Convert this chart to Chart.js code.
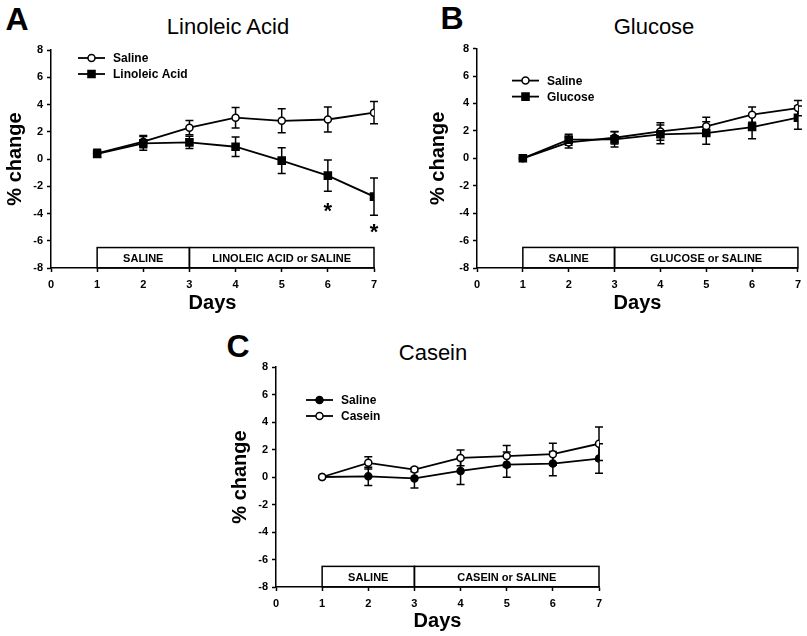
<!DOCTYPE html>
<html>
<head>
<meta charset="utf-8">
<script src="https://cdn.jsdelivr.net/npm/chart.js@4"></script>
<style>
  body { margin: 0; background: #fff; width: 807px; height: 636px; position: relative; overflow: hidden;
         font-family: Arial, "Liberation Sans", sans-serif; }
  canvas { position: absolute; }
  .lbl { position: absolute; font-weight: bold; font-size: 32px; line-height: 1; transform: translate(-50%, -50%); }
  .ttl { position: absolute; font-size: 22px; line-height: 1; transform: translate(-50%, -50%); white-space: nowrap; }
</style>
</head>
<body>
<div class="lbl" style="left:17px;top:19px">A</div>
<div class="ttl" style="left:228px;top:27px">Linoleic Acid</div>
<div class="lbl" style="left:452px;top:18px">B</div>
<div class="ttl" style="left:654px;top:27px">Glucose</div>
<div class="lbl" style="left:238px;top:346px">C</div>
<div class="ttl" style="left:433px;top:353px">Casein</div>

<canvas id="chartA" width="400" height="280" style="left:0px;top:38px"></canvas>
<canvas id="chartB" width="381" height="280" style="left:426px;top:38px"></canvas>
<canvas id="chartC" width="400" height="281" style="left:225px;top:355px"></canvas>

<script>
// days on the x axis
var days = [1, 2, 3, 4, 5, 6, 7];
var xTicks = [0, 1, 2, 3, 4, 5, 6, 7];
var yTicks = [-8, -6, -4, -2, 0, 2, 4, 6, 8];

// panel A - linoleic acid
var linSaline = [0.42, 1.27, 2.3, 3.03, 2.8, 2.9, 3.4];
var linSalineErr = [0.3, 0.45, 0.52, 0.75, 0.88, 0.92, 0.82];
var linAcid = [0.37, 1.15, 1.22, 0.9, -0.12, -1.22, -2.76];
var linAcidErr = [0.25, 0.5, 0.45, 0.72, 0.95, 1.14, 1.36];
var linStarDays = [6, 7];
var linStarY = [-3.6, -5.1];

// panel B - glucose
var gluSaline = [0, 1.16, 1.5, 1.96, 2.33, 3.18, 3.66];
var gluSalineErr = [0, 0.4, 0.45, 0.64, 0.67, 0.56, 0.56];
var gluGlucose = [0, 1.36, 1.38, 1.75, 1.84, 2.28, 2.96];
var gluGlucoseErr = [0, 0.4, 0.55, 0.68, 0.82, 0.85, 0.85];

// panel C - casein
var casSaline = [0, 0.05, -0.1, 0.44, 0.9, 0.98, 1.34];
var casSalineErr = [0, 0.66, 0.7, 0.98, 0.92, 0.88, 1.07];
var casCasein = [0, 1.03, 0.54, 1.39, 1.52, 1.66, 2.42];
var casCaseinErr = [0, 0.45, 0.15, 0.57, 0.78, 0.8, 1.22];

// treatment boxes along the bottom
var boxEdges = [1, 3, 7];
var boxTop = -6.5;
var boxBottom = -8;
var linBoxLabels = ['SALINE', 'LINOLEIC ACID or SALINE'];
var gluBoxLabels = ['SALINE', 'GLUCOSE or SALINE'];
var casBoxLabels = ['SALINE', 'CASEIN or SALINE'];

var FONT = 'Arial, "Liberation Sans", sans-serif';

function toPoints(vals) {
    var pts = [];
    for (var i = 0; i < days.length; i++) pts.push({ x: days[i], y: vals[i] });
    return pts;
}

// second series is drawn on top, like the original
function series(label, vals, err, style, filled, radius, order) {
    return {
        label: label,
        data: toPoints(vals),
        err: err,
        order: order,
        borderColor: '#000',
        borderWidth: 1.8,
        backgroundColor: filled ? '#000' : '#fff',
        pointStyle: style,
        pointRadius: radius,
        pointBorderWidth: 1.5,
        pointBorderColor: '#000',
        pointBackgroundColor: filled ? '#000' : '#fff',
        tension: 0
    };
}

function drawMarker(ctx, ds, x, y) {
    ctx.save();
    ctx.lineWidth = 1.5;
    ctx.strokeStyle = '#000';
    ctx.fillStyle = ds.pointBackgroundColor;
    ctx.beginPath();
    if (ds.pointStyle === 'rect') {
        var s = ds.pointRadius * Math.SQRT1_2;
        ctx.rect(x - s, y - s, 2 * s, 2 * s);
    } else {
        ctx.arc(x, y, ds.pointRadius, 0, Math.PI * 2);
    }
    ctx.fill();
    ctx.stroke();
    ctx.restore();
}

var extrasPlugin = {
    id: 'extras',
    beforeDatasetsDraw: function(chart) {
        var ctx = chart.ctx;
        var xs = chart.scales.x, ys = chart.scales.y;
        var o = chart.options.plugins.extras;
        ctx.save();
        ctx.strokeStyle = '#000';
        ctx.lineWidth = 1.5;
        // error bars
        chart.data.datasets.forEach(function(ds) {
            ds.data.forEach(function(p, j) {
                var e = ds.err[j];
                if (!e) return;
                var x = xs.getPixelForValue(p.x);
                var yt = ys.getPixelForValue(p.y + e);
                var yb = ys.getPixelForValue(p.y - e);
                ctx.beginPath();
                ctx.moveTo(x, yt); ctx.lineTo(x, yb);
                ctx.moveTo(x - 4, yt); ctx.lineTo(x + 4, yt);
                ctx.moveTo(x - 4, yb); ctx.lineTo(x + 4, yb);
                ctx.stroke();
            });
        });
        // treatment boxes
        var yT = ys.getPixelForValue(boxTop), yB = ys.getPixelForValue(boxBottom);
        ctx.fillStyle = '#000';
        ctx.font = 'bold 11px ' + FONT;
        ctx.textAlign = 'center';
        ctx.textBaseline = 'middle';
        for (var i = 0; i < boxEdges.length - 1; i++) {
            var x0 = xs.getPixelForValue(boxEdges[i]);
            var x1 = xs.getPixelForValue(boxEdges[i + 1]);
            ctx.strokeRect(x0, yT, x1 - x0, yB - yT);
            ctx.fillText(o.boxLabels[i], (x0 + x1) / 2, (yT + yB) / 2 + 1);
        }
        ctx.restore();
    },
    afterDraw: function(chart) {
        var ctx = chart.ctx;
        var a = chart.chartArea;
        var o = chart.options.plugins.extras;
        var xs = chart.scales.x, ys = chart.scales.y;
        ctx.save();
        // legend
        chart.data.datasets.forEach(function(ds, i) {
            var x0 = a.left + o.legendX;
            var y = a.top + o.legendY + i * 16;
            ctx.strokeStyle = '#000';
            ctx.lineWidth = 1.8;
            ctx.beginPath();
            ctx.moveTo(x0, y); ctx.lineTo(x0 + 27, y);
            ctx.stroke();
            drawMarker(ctx, ds, x0 + 13.5, y);
            ctx.fillStyle = '#000';
            ctx.font = 'bold 12px ' + FONT;
            ctx.textAlign = 'left';
            ctx.textBaseline = 'middle';
            ctx.fillText(ds.label, x0 + 35, y + 1);
        });
        // significance stars
        if (o.starDays) {
            ctx.font = 'bold 22px ' + FONT;
            ctx.textAlign = 'center';
            ctx.textBaseline = 'middle';
            for (var k = 0; k < o.starDays.length; k++) {
                ctx.fillText('*', xs.getPixelForValue(o.starDays[k]), ys.getPixelForValue(o.starY[k]) + 4);
            }
        }
        ctx.restore();
    }
};

function makeChart(id, datasets, extras, pad) {
    new Chart(document.getElementById(id), {
        type: 'line',
        data: { datasets: datasets },
        plugins: [extrasPlugin],
        options: {
            responsive: false,
            animation: false,
            layout: { padding: { top: pad.top, right: pad.right, left: 0, bottom: 0 } },
            plugins: {
                legend: { display: false },
                title: { display: false },
                tooltip: { enabled: false },
                extras: extras
            },
            scales: {
                x: {
                    type: 'linear',
                    min: 0, max: 7,
                    afterFit: function(s) { s.height = pad.xHeight; },
                    afterBuildTicks: function(s) { s.ticks = xTicks.map(function(v) { return { value: v }; }); },
                    grid: { drawOnChartArea: false, drawTicks: true, tickLength: 4, color: '#000', tickWidth: 1.5 },
                    border: { color: '#000', width: 1.5 },
                    ticks: { color: '#000', padding: 6, font: { family: FONT, size: 11, weight: 'bold' } },
                    title: { display: true, text: 'Days', color: '#000', padding: { top: 0, bottom: 3 },
                             font: { family: FONT, size: 20, weight: 'bold' } }
                },
                y: {
                    min: -8, max: 8,
                    afterFit: function(s) { s.width = pad.yWidth; },
                    afterBuildTicks: function(s) { s.ticks = yTicks.map(function(v) { return { value: v }; }); },
                    grid: { drawOnChartArea: false, drawTicks: true, tickLength: 4, color: '#000', tickWidth: 1.5 },
                    border: { color: '#000', width: 1.5 },
                    ticks: { color: '#000', padding: 4, font: { family: FONT, size: 11, weight: 'bold' } },
                    title: { display: true, text: '% change', color: '#000', padding: { top: pad.yTitle, bottom: 0 },
                             font: { family: FONT, size: 20, weight: 'bold' } }
                }
            }
        }
    });
}

makeChart('chartA', [
    series('Saline', linSaline, linSalineErr, 'circle', false, 3.5, 1),
    series('Linoleic Acid', linAcid, linAcidErr, 'rect', true, 5, 0)
], { legendX: 27, legendY: 8, boxLabels: linBoxLabels, starDays: linStarDays, starY: linStarY },
   { top: 12, right: 26, xHeight: 50, yWidth: 51, yTitle: 3 });

makeChart('chartB', [
    series('Saline', gluSaline, gluSalineErr, 'circle', false, 3.5, 1),
    series('Glucose', gluGlucose, gluGlucoseErr, 'rect', true, 5, 0)
], { legendX: 35, legendY: 32, boxLabels: gluBoxLabels },
   { top: 10, right: 4, xHeight: 50, yWidth: 51, yTitle: 0 });

makeChart('chartC', [
    series('Saline', casSaline, casSalineErr, 'circle', true, 3.5, 1),
    series('Casein', casCasein, casCaseinErr, 'circle', false, 3.5, 0)
], { legendX: 30, legendY: 33, boxLabels: casBoxLabels },
   { top: 12, right: 26, xHeight: 49, yWidth: 51, yTitle: 3 });
</script>
</body>
</html>
